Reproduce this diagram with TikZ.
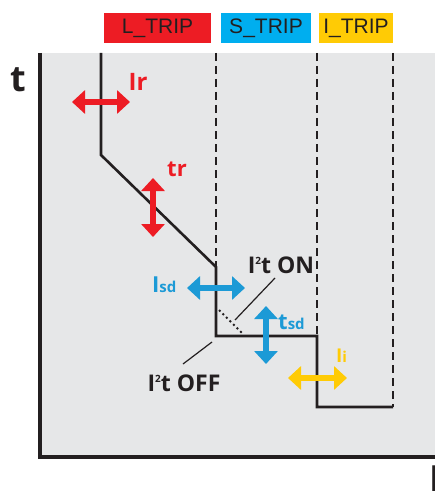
\documentclass[tikz,border=0pt]{standalone}
\usepackage{fontspec}
\setmainfont{Open Sans}
\newfontfamily\boxfont{Liberation Sans}
\usetikzlibrary{arrows.meta}
\definecolor{bg}{HTML}{E6E7E8}
\definecolor{ink}{HTML}{231F20}
\definecolor{lred}{HTML}{ED1C24}
\definecolor{sblue}{HTML}{00AEEF}
\definecolor{ablue}{HTML}{1C9AD6}
\definecolor{iyel}{HTML}{FFCB05}
\tikzset{
  tripbox/.style={inner sep=0pt, minimum height=30pt, font=\boxfont\fontsize{21}{21}\selectfont, text=ink},
  dblarrow/.style={line width=6pt, {Triangle[length=13pt,width=23pt]}-{Triangle[length=13pt,width=23pt]}},
  curve/.style={ink, line width=2.6pt, line join=miter},
  guide/.style={ink, line width=2pt, dash pattern=on 8pt off 5pt},
  leader/.style={ink, line width=1.2pt},
  lab/.style={inner sep=0pt, font=\bfseries\fontsize{22}{22}\selectfont},
  axlab/.style={inner sep=0pt, text=ink, font=\bfseries\fontsize{36}{36}\selectfont}
}
\newcommand{\smalltxt}[1]{{\fontsize{15}{15}\selectfont #1}}
\newcommand{\sqtwo}{\raisebox{9pt}{\fontsize{10}{10}\selectfont 2}}
\begin{document}
\begin{tikzpicture}[x=1pt,y=-1pt]
\useasboundingbox (0,0) rectangle (435,492);
\fill[bg] (40,53) rectangle (435,457);
% trip boxes
\node[tripbox, fill=lred, minimum width=107pt] (ltrip) at (157.5,28) {L\_TRIP};
\node[tripbox, fill=sblue, minimum width=90pt] (strip) at (266,28) {S\_TRIP};
\node[tripbox, fill=iyel, minimum width=74pt] (itrip) at (356,28) {I\_TRIP};
% curve coordinates
\coordinate (c0) at (101,53);
\coordinate (c1) at (101,155);
\coordinate (c2) at (216,267);
\coordinate (c3) at (216,336);
\coordinate (c4) at (317,336);
\coordinate (c5) at (317,407);
\coordinate (c6) at (393,407);
\coordinate (g1) at (216,53);
\coordinate (g2) at (317,53);
\coordinate (g3) at (393,53);
% dashed guides
\draw[guide] (g1) -- (c2);
\draw[guide] (g2) -- (c4);
\draw[guide] (g3) -- (c6);
% curve
\draw[curve] (c0) -- (c1) -- (c2) -- (c3) -- (c4) -- (c5) -- (c6);
% dotted I2t ON
\coordinate (d0) at (219,310);
\coordinate (d1) at (243,334);
\draw[ink, line width=2pt, dash pattern=on 2pt off 3pt] (d0) -- (d1);
% axes
\draw[ink, line width=4pt, line join=miter] (40,53) -- (40,457) -- (435,457);
\node[axlab] (tlab) at (18,80) {t};
\node[axlab, anchor=north west] (ilab) at (429,466) {I};
% arrows
\coordinate (ir0) at (72,102);
\coordinate (ir1) at (130,102);
\draw[dblarrow, lred] (ir0) -- (ir1);
\node[lab, text=lred, font=\bfseries\fontsize{24}{24}\selectfont] (irl) at (138,82) {Ir};
\coordinate (tr0) at (153,178);
\coordinate (tr1) at (153,237);
\draw[dblarrow, lred] (tr0) -- (tr1);
\node[lab, text=lred] (trl) at (177,169) {tr};
\coordinate (is0) at (187,288);
\coordinate (is1) at (245,288);
\draw[dblarrow, ablue] (is0) -- (is1);
\node[lab, text=ablue, anchor=base west] (isl) at (152,292) {I\smalltxt{sd}};
\coordinate (ts0) at (266,306);
\coordinate (ts1) at (266,364);
\draw[dblarrow, ablue] (ts0) -- (ts1);
\node[lab, text=ablue, anchor=base west] (tsl) at (278,329) {t\smalltxt{sd}};
\coordinate (ii0) at (288,378);
\coordinate (ii1) at (347,378);
\draw[dblarrow, iyel] (ii0) -- (ii1);
\node[lab, text=iyel, anchor=base west, font=\bfseries\fontsize{19}{19}\selectfont] (iil) at (336,362) {I\smalltxt{i}};
% I2t labels
\node[lab, text=ink, font=\bfseries\fontsize{23}{23}\selectfont, anchor=base] (on) at (281,273) {I\sqtwo t ON};
\node[lab, text=ink, font=\bfseries\fontsize{23}{23}\selectfont, anchor=base] (off) at (184,391) {I\sqtwo t OFF};
\coordinate (onl0) at (235,320);
\coordinate (onl1) at (275,278);
\draw[leader] (onl0) -- (onl1);
\coordinate (offl0) at (212,342);
\coordinate (offl1) at (183,364);
\draw[leader] (offl0) -- (offl1);
\end{tikzpicture}
\end{document}
